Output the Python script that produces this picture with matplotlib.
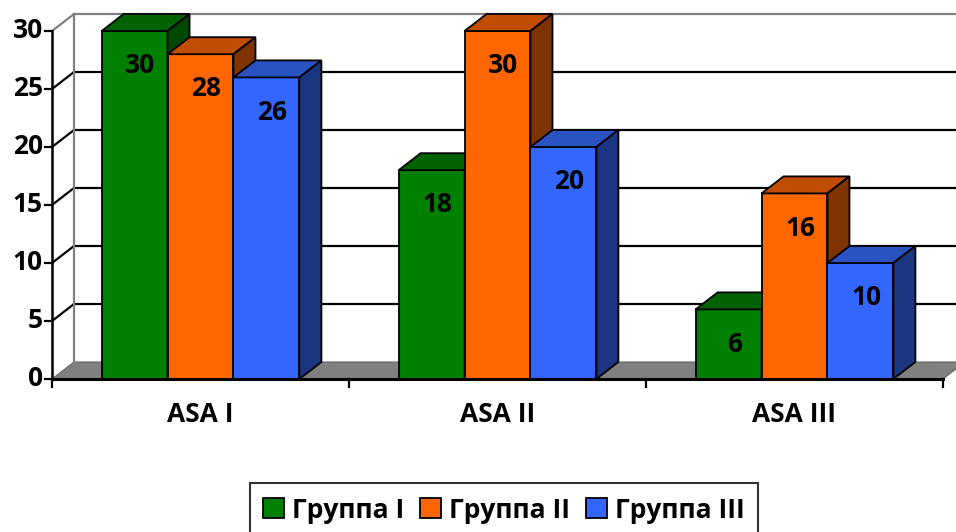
import numpy as np
import matplotlib
matplotlib.use("Agg")
import matplotlib.pyplot as plt
from matplotlib.patches import Polygon, Patch

plt.rcParams["font.family"] = ["Open Sans", "DejaVu Sans"]
plt.rcParams["font.weight"] = "bold"

categories = ["ASA I", "ASA II", "ASA III"]
series = ["Группа I", "Группа II", "Группа III"]
group1 = [30, 18, 6]
group2 = [28, 30, 16]
group3 = [26, 20, 10]
yticks = [0, 5, 10, 15, 20, 25, 30]

# front, top, side shades per series
FRONT = ["#008000", "#FF6600", "#3366FF"]
TOP = ["#006200", "#C04D00", "#2A52C0"]
SIDE = ["#004800", "#7F3300", "#1C3580"]
FS = 19

W, H = 956, 532
fig = plt.figure(figsize=(W / 100, H / 100), dpi=100)
x0, x1, y0, y1 = 52, 943, 379, 31   # front plot area in pixels
ax = fig.add_axes([x0 / W, (H - y0) / H, (x1 - x0) / W, (y0 - y1) / H])
ax.set_xlim(0, 3); ax.set_ylim(0, 30)
ax.axis("off")

pxx = 3 / (x1 - x0); pxy = 30 / (y0 - y1)
DX, DY = 22 * pxx, 17 * pxy
BW = 0.222

# floor
ax.add_patch(Polygon([(0, 0), (3, 0), (3 + DX, DY), (DX, DY)], closed=True,
                     facecolor="#808080", edgecolor="#666666", lw=0.8, zorder=1, clip_on=False))
# back wall gridlines + left wall slants
for v in yticks[1:]:
    c = "#808080" if v == 30 else "black"
    ax.plot([DX, 3 + DX + 0.1], [v + DY, v + DY], color=c, lw=1.6, zorder=1, clip_on=False)
    ax.plot([0, DX], [v, v + DY], color=c, lw=1.6, zorder=1, clip_on=False)
ax.plot([DX, DX], [DY, 30 + DY], color="#808080", lw=1.6, zorder=1, clip_on=False)

# bars
data = [group1, group2, group3]
for ci in range(len(categories)):
    for si, vals in enumerate(data):
        v = vals[ci]
        l = ci + 0.5 + (si - 1.5) * BW
        r = l + BW
        kw = dict(closed=True, edgecolor="black", lw=1.3, zorder=3, clip_on=False)
        ax.add_patch(Polygon([(l, 0), (r, 0), (r, v), (l, v)], facecolor=FRONT[si], **kw))
        ax.add_patch(Polygon([(l, v), (r, v), (r + DX, v + DY), (l + DX, v + DY)],
                             facecolor=TOP[si], **kw))
        ax.add_patch(Polygon([(r, 0), (r + DX, DY), (r + DX, v + DY), (r, v)],
                             facecolor=SIDE[si], **kw))
        ax.text((l + r) / 2 + 0.02, v - 3.0, str(v), ha="center", va="center",
                fontsize=FS, fontweight="bold", color="black", zorder=5)

# axes lines and ticks
ax.plot([0, 0], [0, 30], color="black", lw=1.8, zorder=4, clip_on=False)
ax.plot([0, 3], [0, 0], color="black", lw=2.2, zorder=4, clip_on=False)
for v in yticks:
    ax.plot([-7 * pxx, 0], [v, v], color="black", lw=1.6, zorder=4, clip_on=False)
    ax.text(-9 * pxx, v, str(v), ha="right", va="center", fontsize=FS, fontweight="bold")
for k in range(4):
    ax.plot([k, k], [0, -8 * pxy], color="black", lw=1.6, zorder=4, clip_on=False)
for ci, c in enumerate(categories):
    ax.text(ci + 0.5, -36 * pxy, c, ha="center", va="center", fontsize=FS, fontweight="bold")

handles = [Patch(facecolor=FRONT[i], edgecolor="black", lw=1.3) for i in range(3)]
leg = fig.legend(handles, series, loc="center", bbox_to_anchor=(504 / W, 1 - 510 / H),
                 ncol=3, frameon=True, fancybox=False, edgecolor="black",
                 prop={"size": FS, "weight": "bold"}, handlelength=0.8, handleheight=0.8,
                 handletextpad=0.3, columnspacing=0.6, borderpad=0.5, borderaxespad=0)
leg.get_frame().set_linewidth(1.5)

fig.savefig("out.png", dpi=100)
